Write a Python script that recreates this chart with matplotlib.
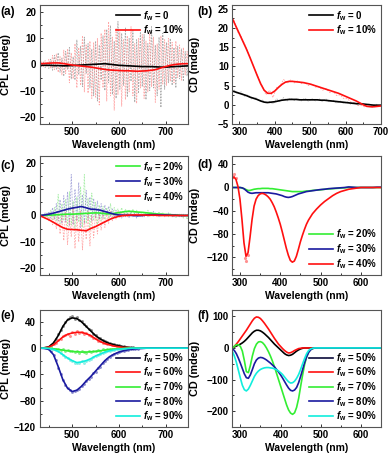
import numpy as np
import matplotlib
matplotlib.use('Agg')
import matplotlib.pyplot as plt
from matplotlib.ticker import MultipleLocator

plt.rcParams['font.family'] = ['Liberation Sans', 'DejaVu Sans']
plt.rcParams['font.weight'] = 'bold'
plt.rcParams['axes.labelweight'] = 'bold'
plt.rcParams['mathtext.fontset'] = 'custom'
plt.rcParams['mathtext.rm'] = 'Liberation Sans:bold'
plt.rcParams['mathtext.it'] = 'Liberation Sans:italic:bold'
plt.rcParams['mathtext.bf'] = 'Liberation Sans:bold'

# ---------------- data ----------------
# (a) CPL, fw = 0 / 10 %
xa = np.arange(430, 751, 10)
a_fw0 = [-0.3, -0.3, -0.3, -0.4, -0.4, -0.5, -0.5, -0.4, -0.3, -0.2, -0.1, 0.0, 0.1, 0.2, 0.3, 0.1, -0.1,
         -0.3, -0.4, -0.5, -0.6, -0.7, -0.8, -0.8, -0.8, -0.9, -1.0, -1.0, -0.9, -0.8, -0.7, -0.6, -0.5]
a_fw10 = [0.3, 0.4, 0.5, 0.6, 0.6, 0.4, 0.1, -0.2, -0.4, -0.6, -0.8, -1.0, -1.3, -1.6, -1.9, -2.1, -2.2,
          -2.3, -2.4, -2.4, -2.5, -2.6, -2.5, -2.4, -2.2, -1.9, -1.3, -0.8, -0.3, 0.0, 0.2, 0.3, 0.3]
xa_raw = np.arange(430, 751, 4)
a_fw0_raw = [0.5, -0.8, 1.0, -1.2, 0.8, -1.5, 2.0, -2.2, 3.5, -1.8, 4.5,
             -3.0, 2.5, -4.5, 5.0, -2.0, 6.5, -5.5, 3.0, -6.0, 9.5, -4.0, 7.0, -8.5, 10.5, -3.5, 8.0, -9.0, 6.0, -12.0, 9.0,
             -14.0, 7.5, -6.0, 11.0, -10.0, 13.5, -7.0, 15.0, -11.5, 9.0, -13.0, 16.5, -9.5, 12.0, -8.0, 14.0, -12.5,
             10.0, -6.5, 13.0, -14.5, 9.5, -11.0, 12.5, -8.5,
             11.5, -13.5, 8.0, -10.0, 14.5, -9.0, 7.5, -12.0, 10.5, -16.5, 12.0, -9.5, 8.5, -7.0, 10.0, -8.0, 6.5,
             -9.0, 7.0, -5.5, 6.0, -6.5, 5.0, -4.5, 3.5]
a_fw10_raw = [-0.5, 1.0, -0.8, 1.5, -1.0, 2.0, -1.5, 3.5, -2.0, 4.0, -3.0,
              3.0, -4.0, 5.5, -3.5, 6.0, -7.0, 4.5, -5.5, 8.0, -9.0, 6.5, -8.0, 11.0, -10.5, 7.5, -11.0, 9.0, -13.0, 8.5, -12.5,
              10.0, -15.5, 12.0, -9.0, 13.5, -14.0, 16.5, -12.0, 10.5, -17.5, 14.0, -11.5, 12.5, -16.0, 9.5, -13.5, 11.0,
              -10.5, 14.5, -12.0, 8.0, -15.0, 10.0, -9.0, 11.5,
              -13.0, 9.0, -10.5, 12.0, -8.5, 10.5, -14.5, 8.0, -9.5, 11.0, -7.5, 9.5, -8.0, 10.0, -6.5, 8.5, -7.0,
              9.0, -5.0, 7.5, -6.0, 6.5, -4.0, 5.0, -3.0]

# (b) CD, fw = 0 / 10 %
xb = np.arange(280, 701, 10)
b_fw0 = [3.6, 3.3, 3.0, 2.7, 2.4, 2.0, 1.7, 1.4, 1.0, 0.7, 0.6, 0.7, 0.8, 1.0, 1.2, 1.3, 1.4, 1.4, 1.4, 1.3, 1.3,
         1.3, 1.3, 1.3, 1.3, 1.2, 1.2, 1.1, 1.0, 0.9, 0.8, 0.7, 0.6, 0.5, 0.4, 0.3, 0.3, 0.2, 0.1, 0.0, -0.1, -0.1, -0.1]
b_fw10 = [22.5, 20.5, 18.5, 16.5, 14.5, 12.3, 10.0, 7.7, 5.5, 3.8, 3.0, 3.0, 3.6, 4.5, 5.3, 5.9, 6.1, 6.1, 6.0, 5.9,
          5.8, 5.6, 5.4, 5.1, 4.8, 4.5, 4.2, 3.9, 3.6, 3.3, 3.0, 2.6, 2.2, 1.8, 1.4, 1.0, 0.5, 0.0, -0.4, -0.5, -0.5, -0.4, -0.3]
xb_raw = np.arange(285, 700, 10)
b_fw0_raw = [3.9, 2.8, 3.4, 2.2, 2.6, 1.5, 2.0, 1.0, 1.3, 0.3, 0.9, 0.2, 1.6, 0.8, 1.9, 1.0, 1.8, 1.1, 1.7, 1.0,
             1.8, 0.9, 1.6, 1.0, 1.6, 0.8, 1.5, 0.7, 1.2, 0.4, 1.0, 0.3, 0.8, 0.1, 0.6, -0.1, 0.5, -0.3, 0.3, -0.4, 0.2, -0.3]
b_fw10_raw = [22.0, 19.0, 17.8, 15.8, 13.6, 11.2, 8.8, 6.8, 4.8, 2.6, 3.8, 1.9, 4.5, 5.0, 6.6, 5.6, 6.5, 5.7, 6.3, 5.5,
              5.9, 5.0, 5.4, 4.6, 4.7, 3.8, 4.2, 3.2, 3.5, 2.4, 2.6, 1.6, 1.6, 0.7, 0.6, -0.2, -0.2, -0.6, -0.3, -0.7, -0.1, -0.5]

# (c) CPL, fw = 20 / 30 / 40 %
xc = np.arange(430, 751, 10)
c_fw20 = [0.0, 0.0, 0.1, 0.2, 0.3, 0.4, 0.5, 0.5, 0.6, 0.7, 0.8, 0.9, 1.0, 0.9, 0.7, 0.6, 0.8, 1.1, 1.4, 1.6, 1.5,
          1.3, 1.2, 1.0, 0.8, 0.6, 0.5, 0.4, 0.3, 0.2, 0.1, 0.0, 0.0]
c_fw30 = [0.0, 0.2, 0.5, 0.9, 1.4, 1.9, 2.4, 2.8, 3.1, 3.4, 2.9, 2.4, 2.3, 2.0, 1.5, 1.0, 0.5, 0.2, 0.1, 0.1, 0.0,
          -0.1, 0.0, 0.2, 0.3, 0.3, 0.2, 0.2, 0.1, 0.1, 0.0, 0.0, 0.0]
c_fw40 = [0.0, -0.8, -1.6, -2.6, -3.6, -4.6, -5.2, -5.3, -5.4, -5.6, -5.8, -4.9, -4.2, -3.3, -2.4, -1.5, -0.8, -0.3,
          0.0, 0.1, 0.2, 0.2, 0.2, 0.1, 0.1, 0.1, 0.0, 0.0, 0.0, 0.0, 0.0, 0.0, 0.0]
xc_raw = np.arange(430, 751, 4)
c_fw20_raw = [0.2, -0.3, 0.5, -0.5, 1.0, -1.0, 2.0, -1.5, 3.0, -2.0, 8.0,
              -3.0, 4.5, -2.0, 6.0, -4.0, 9.0, -3.5, 5.5, -5.0, 7.0, -2.5, 11.0, -4.5, 15.5, -3.0, 6.5, -5.5, 8.5, -2.0, 5.0,
              -3.5, 4.0, -2.0, 3.5, -1.5, 3.0, -1.0, 4.5, -0.5, 3.0, 0.0, 2.5, 0.5, 3.0, 0.0, 2.5, 0.5, 2.0, 0.5, 2.5,
              0.0, 2.0, 0.5, 1.5, 0.0,
              1.5, 0.0, 2.0, 0.5, 1.5, -0.5, 1.0, 0.0, 1.5, -0.5, 1.0, 0.0, 0.5, -0.5, 1.0, -0.5, 0.5, -1.0, 0.5, -0.5,
              0.0, -1.0, 0.5, -1.5, 0.0]
c_fw30_raw = [0.0, 0.5, -0.5, 1.0, -0.5, 1.5, -1.0, 3.0, -1.5, 4.5, -2.0,
              6.0, -3.0, 7.5, -2.5, 9.0, -4.0, 15.5, -3.5, 10.0, -2.0, 12.5, -4.5, 8.0, -3.0, 9.5, -1.5, 7.0, -2.0, 6.5, -1.0,
              5.5, -1.5, 4.5, -1.0, 4.0, 0.0, 3.5, -0.5, 2.5, -1.0, 2.0, -0.5, 1.5, -1.0, 1.5, -0.5, 1.0, -1.0, 1.5, -0.5,
              1.0, -1.0, 1.0, -0.5, 0.5,
              -0.5, 1.0, -0.5, 1.0, 0.0, 1.5, 0.0, 1.0, -0.5, 1.0, 0.0, 0.5, -0.5, 1.0, 0.0, 0.5, -0.5, 0.5, 0.0, 0.5,
              -0.5, 0.5, 0.0, 0.5, 0.0]
c_fw40_raw = [0.0, -0.5, 0.5, -1.0, 0.0, -2.0, 1.0, -3.5, 0.5, -5.0, 1.0,
              -7.0, 0.0, -9.5, 2.0, -11.0, -1.0, -8.0, 3.0, -12.5, 0.5, -10.0, 2.0, -13.0, -1.5, -9.0, 1.5, -11.5, 0.0, -8.5, 1.0,
              -7.0, 0.5, -5.5, 1.5, -4.5, 1.0, -3.0, 1.5, -2.0, 1.0, -1.5, 1.5, -1.0, 1.0, -0.5, 1.0, -0.5, 1.0, 0.0, 0.5,
              -0.5, 1.0, 0.0, 0.5, -0.5,
              0.5, 0.0, 1.0, -0.5, 0.5, 0.0, 0.5, -0.5, 0.5, 0.0, 0.5, -0.5, 0.5, 0.0, 0.5, -0.5, 0.0, 0.5, -0.5, 0.0,
              0.5, -0.5, 0.0, 0.5, 0.0]

# (d) CD, fw = 20 / 30 / 40 %
xd = np.concatenate([np.arange(280, 471, 5), np.arange(480, 651, 10)])
d_fw20 = [0, 0, 0, 0, 0, -1, -2, -3.5, -5, -5, -4, -3, -2.5, -2, -2, -1.5, -1.5, -1.5, -1.5, -2, -2, -2.5, -3, -3.5,
          -4, -4.5, -5, -5.5, -6, -6.5, -7, -7, -7, -7, -7, -7, -6.5, -6, -6,
          -5, -4.5, -4, -3, -2.5, -2, -1.5, -1, -0.5, 0, 0, 0, 0, 0, 0, 0, 0, 0]
d_fw30 = [0, 0, 0, 0, 0, -0.5, -2, -5, -8, -9.5, -10, -9.5, -9, -9, -9, -9, -9, -9, -9, -9.5, -10, -10.5, -11, -12,
          -13, -14, -15.5, -16.5, -17, -16.5, -15.5, -14, -12.5, -11, -10, -9, -8, -7, -6.5,
          -5.5, -4.5, -3.5, -3, -2, -1.5, -1, -0.5, 0, 1, 0.5, 0, 0, 0, 0, 0, 0.5, 0.5]
d_fw40 = [14, 18, 14, 2, -20, -55, -95, -118, -112, -85, -55, -32, -20, -14, -11, -10, -11, -13, -16, -20, -26, -33,
          -42, -52, -63, -76, -90, -104, -116, -125, -128, -126, -118, -106, -93, -82, -72, -63, -56,
          -45, -37, -30, -24, -19, -14, -10, -7, -5, -3, -2, -1, 0, 0, 0, 0, 0, 0]
xd_raw = [283, 286, 289, 313, 316, 319]
d_fw40_raw = [20, 23, 17, -121, -126, -116]

# (e) CPL, fw = 50 ... 90 %
xe = np.arange(430, 751, 10)
e_fw50 = [0, 0.5, 2, 8, 19, 33, 43, 46, 45, 40, 33, 26, 19, 14, 10, 7, 5, 3.5, 2, 1, 0.5, 0,
          0, 0, 0, 0, 0, 0, 0, 0, 0, 0, 0]
e_fw60 = [0, 0.3, 1.5, 5, 11, 17, 21, 23, 24, 24, 22, 19, 14, 10, 7, 5, 3, 2, 1, 0.5, 0, 0,
          0, 0, 0, 0, 0, 0, 0, 0, 0, 0, 0]
e_fw70 = [0, 0, -0.5, -1, -2, -3, -4, -5, -5.5, -6, -6, -5.5, -5, -4, -3, -2, -1.5, -1, -0.5, 0, 0, 0,
          0, 0, 0, 0, 0, 0, 0, 0, 0, 0, 0]
e_fw80 = [0, -0.5, -2, -10, -28, -48, -61, -66, -64, -58, -50, -43, -35, -27, -19, -13, -9, -6, -4, -2.5, -1.5, -1,
          -0.5, 0, 0, 0, 0, 0, 0, 0, 0, 0, 0]
e_fw90 = [0, 0, -0.5, -2, -5, -10, -15, -19, -22, -21, -19, -16, -12, -9, -6, -4, -2.5, -1.5, -1, -0.5, 0, 0,
          0, 0, 0, 0, 0, 0, 0, 0, 0, 0, 0]
xe_raw = np.arange(450, 641, 5)
e_fw50_raw = [2, 5, 9, 14, 21, 28, 34, 40, 44, 47, 49, 45, 48, 43, 41, 36, 34, 29, 27, 22,
              20, 16, 15, 12, 11, 9, 8, 6, 6, 4, 4, 3, 3, 2, 2, 1, 1, 0.5, 0]
e_fw60_raw = [1.5, 3, 6, 8, 12, 14, 18, 20, 22, 19, 25, 22, 26, 23, 25, 21, 23, 20, 19, 16,
              15, 11, 11, 8, 8, 6, 6, 4, 4, 3, 3, 2, 2, 1, 1, 0.5, 0.5, 0, 0]
e_fw70_raw = [0, 1, -1, -2, -1, -3, -2, -4, -3, -5, -4, -6, -5, -7, -5, -6, -7, -5, -6, -4,
              -5, -3, -4, -2, -3, -1.5, -2, -1, -1.5, -0.5, -1, 0, -0.5, 0, 0, 0, 0, 0, 0]
e_fw80_raw = [-2, -5, -11, -18, -30, -40, -49, -56, -61, -64, -66, -65, -63, -62, -58, -55, -50, -47, -44, -38,
              -36, -30, -28, -22, -20, -16, -13, -11, -9, -7, -6, -5, -4, -3, -2.5, -2, -1.5, -1, -1]
e_fw90_raw = [-0.5, -1, -2, -3, -5, -8, -10, -13, -15, -18, -19, -22, -22, -23, -20, -22, -19, -18, -16, -14,
              -12, -11, -9, -8, -6, -5, -4, -3, -2.5, -2, -1.5, -1, -1, -0.5, -0.5, 0, 0, 0, 0]

# (f) CD, fw = 50 ... 90 %
xf = np.concatenate([np.arange(280, 501, 5), np.arange(510, 651, 10)])
zeros15 = [0] * 15
f_fw50 = [0, 3, 6, 9, 12, 16, 21, 27, 34, 41, 48, 53, 56, 56, 54, 50, 45, 39, 33, 26, 19, 12, 6, 0, -6, -12, -18,
          -22, -24, -23, -20, -15, -10, -6, -3, -1, 0, 0, 0, 0, 0, 0, 0, 0, 0] + zeros15
f_fw60 = [0, 5, 12, 20, 29, 38, 47, 56, 66, 76, 86, 94, 98, 97, 93, 86, 78, 69, 60, 50, 40, 30, 21, 12, 5, -2, -8,
          -13, -16, -15, -12, -8, -5, -2, -1, 0, 0, 0, 0, 0, 0, 0, 0, 0, 0] + zeros15
f_fw70 = [-2, 5, 10, 10, 5, -10, -40, -75, -78, -55, -25, -2, 12, 19, 20, 17, 10, 0, -12, -26, -42, -60, -80, -100,
          -120, -140, -160, -180, -196, -206, -210, -205, -188, -160, -122, -85, -52, -28, -12, -5, -2, 0, 0, 0, 0] + zeros15
f_fw80 = [-2, -8, -18, -32, -48, -65, -82, -94, -96, -85, -68, -50, -38, -32, -30, -31, -34, -38, -43, -48, -54, -60,
          -68, -76, -85, -95, -106, -117, -127, -134, -136, -133, -125, -110, -90, -68, -46, -28, -14, -6, -2, 0, 0, 0, 0] + zeros15
f_fw90 = [-10, -25, -45, -70, -95, -118, -132, -136, -130, -118, -104, -90, -80, -73, -68, -65, -63, -62, -62, -63,
          -64, -66, -69, -73, -78, -84, -92, -100, -107, -111, -110, -105, -96, -84, -68, -50, -33, -18, -8, -3, -1,
          0, 0, 0, 0] + zeros15

LBL = {k: r'$f_\mathrm{w}$ = ' + k for k in ['0', '10%', '20%', '30%', '40%', '50%', '60%', '70%', '80%', '90%']}

# ---------------- style ----------------
C_BLK = '#000000'
C_RED = '#ff1010'
C_GRN = '#33ee33'
C_NAV = '#1a1aa0'
C_DNV = '#0a0a3a'
C_CYN = '#11eedd'

W, H = 390.0, 455.0
def rect(l, t, r, b):
    return [l / W, 1 - b / H, (r - l) / W, (b - t) / H]

fig = plt.figure(figsize=(3.9, 4.55), dpi=100)

def style(ax, xlim, ylim, xmaj, xmin, ymaj, ymin, ylabel, ylab_x):
    ax.set_xlim(*xlim)
    ax.set_ylim(*ylim)
    ax.xaxis.set_major_locator(MultipleLocator(xmaj))
    ax.xaxis.set_minor_locator(MultipleLocator(xmin))
    ax.yaxis.set_major_locator(MultipleLocator(ymaj))
    ax.yaxis.set_minor_locator(MultipleLocator(ymin))
    ax.tick_params(which='both', direction='in', labelsize=7, pad=2.5, colors='#333333',
                   labelcolor='black', width=0.7)
    ax.tick_params(which='major', length=2.5)
    ax.tick_params(which='minor', length=1.5)
    for s in ax.spines.values():
        s.set_color('#555555')
        s.set_linewidth(0.8)
    ax.set_xlabel('Wavelength (nm)', fontsize=7.5, labelpad=2)
    ax.set_ylabel(ylabel, fontsize=7.8)
    ax.yaxis.set_label_coords(ylab_x, 0.5)

def legend(ax, loc, anchor, spacing):
    leg = ax.legend(loc=loc, bbox_to_anchor=anchor, frameon=False, fontsize=7,
                    handlelength=2.5, handletextpad=0.3, labelspacing=spacing,
                    borderaxespad=0.2, borderpad=0.2)
    return leg

raw_kw = dict(lw=0.6, dashes=(2, 1.5))

# (a)
ax = fig.add_axes(rect(39.5, 5, 188, 124))
ax.plot(xa_raw, a_fw0_raw, color='#888888', alpha=0.7, **raw_kw)
ax.plot(xa_raw, a_fw10_raw, color='#ff5555', alpha=0.5, **raw_kw)
ax.plot(xa, a_fw0, color=C_BLK, lw=1.2, label=LBL['0'])
ax.plot(xa, a_fw10, color=C_RED, lw=1.2, label=LBL['10%'])
style(ax, (430, 748), (-22.8, 22.8), 100, 50, 10, 5, 'CPL (mdeg)', -0.19)
legend(ax, 'upper right', (1.0, 1.0), 0.05)

# (b)
ax = fig.add_axes(rect(232.3, 5, 381, 124))
ax.plot(xb_raw, b_fw0_raw, color='#888888', alpha=0.55, **raw_kw)
ax.plot(xb_raw, b_fw10_raw, color='#ff5555', alpha=0.55, **raw_kw)
ax.plot(xb, b_fw0, color=C_BLK, lw=1.2, label=LBL['0'])
ax.plot(xb, b_fw10, color=C_RED, lw=1.2, label=LBL['10%'])
style(ax, (280, 700), (-5, 26), 100, 50, 5, 2.5, 'CD (mdeg)', -0.215)
legend(ax, 'upper right', (1.0, 1.0), 0.05)

# (c)
ax = fig.add_axes(rect(39.5, 156, 188, 275))
ax.plot(xc_raw, c_fw20_raw, color='#66e066', alpha=0.55, **raw_kw)
ax.plot(xc_raw, c_fw30_raw, color='#6666c0', alpha=0.55, **raw_kw)
ax.plot(xc_raw, c_fw40_raw, color='#ff6666', alpha=0.55, **raw_kw)
ax.plot(xc, c_fw20, color=C_GRN, lw=1.2, label=LBL['20%'])
ax.plot(xc, c_fw30, color=C_NAV, lw=1.2, label=LBL['30%'])
ax.plot(xc, c_fw40, color=C_RED, lw=1.2, label=LBL['40%'])
style(ax, (430, 748), (-22.5, 22.5), 100, 50, 10, 5, 'CPL (mdeg)', -0.19)
legend(ax, 'upper right', (1.0, 1.0), 0.12)

# (d)
ax = fig.add_axes(rect(232.3, 156, 381, 275))
ax.plot(xd_raw, d_fw40_raw, ls='none', marker='.', ms=2.5, color='#ff9090')
ax.plot(xd, d_fw20, color=C_GRN, lw=1.2, label=LBL['20%'])
ax.plot(xd, d_fw30, color=C_NAV, lw=1.2, label=LBL['30%'])
ax.plot(xd, d_fw40, color=C_RED, lw=1.2, label=LBL['40%'])
style(ax, (281, 650), (-150, 54), 100, 50, 40, 20, 'CD (mdeg)', -0.215)
legend(ax, 'lower right', (1.0, 0.0), 0.12)

# (e)
ax = fig.add_axes(rect(39.5, 310, 188, 427))
for yr, c in [(e_fw50_raw, '#909090'), (e_fw60_raw, '#ff9090'), (e_fw70_raw, '#90ee90'),
              (e_fw80_raw, '#9090d0'), (e_fw90_raw, '#90f0e8')]:
    ax.plot(xe_raw, yr, ls='none', marker='.', ms=2.2, color=c)
ax.plot(xe, e_fw50, color=C_BLK, lw=1.2, label=LBL['50%'])
ax.plot(xe, e_fw60, color=C_RED, lw=1.2, label=LBL['60%'])
ax.plot(xe, e_fw70, color=C_GRN, lw=1.2, label=LBL['70%'])
ax.plot(xe, e_fw80, color=C_NAV, lw=1.2, label=LBL['80%'])
ax.plot(xe, e_fw90, color=C_CYN, lw=1.2, label=LBL['90%'])
style(ax, (430, 748), (-120, 58), 100, 50, 40, 20, 'CPL (mdeg)', -0.19)
leg = legend(ax, 'lower right', (1.0, 0.0), 0.08)
leg.get_lines()[0].set_color(C_DNV)

# (f)
ax = fig.add_axes(rect(232.3, 310, 381, 427))
ax.plot(xf, f_fw50, color=C_BLK, lw=1.2, label=LBL['50%'])
ax.plot(xf, f_fw60, color=C_RED, lw=1.2, label=LBL['60%'])
ax.plot(xf, f_fw70, color=C_GRN, lw=1.2, label=LBL['70%'])
ax.plot(xf, f_fw80, color=C_NAV, lw=1.2, label=LBL['80%'])
ax.plot(xf, f_fw90, color=C_CYN, lw=1.2, label=LBL['90%'])
style(ax, (280, 650), (-250, 120), 100, 50, 100, 50, 'CD (mdeg)', -0.215)
leg = legend(ax, 'lower right', (1.0, 0.0), 0.08)
leg.get_lines()[0].set_color(C_DNV)

# panel labels
for txt, x, y in [('(a)', 0, 12), ('(b)', 197, 12), ('(c)', 0, 166), ('(d)', 197, 165),
                  ('(e)', 0, 316), ('(f)', 197, 316)]:
    fig.text(x / W, 1 - y / H, txt, fontsize=8.5, fontweight='bold', ha='left', va='center')

fig.savefig('out.png', dpi=100)
